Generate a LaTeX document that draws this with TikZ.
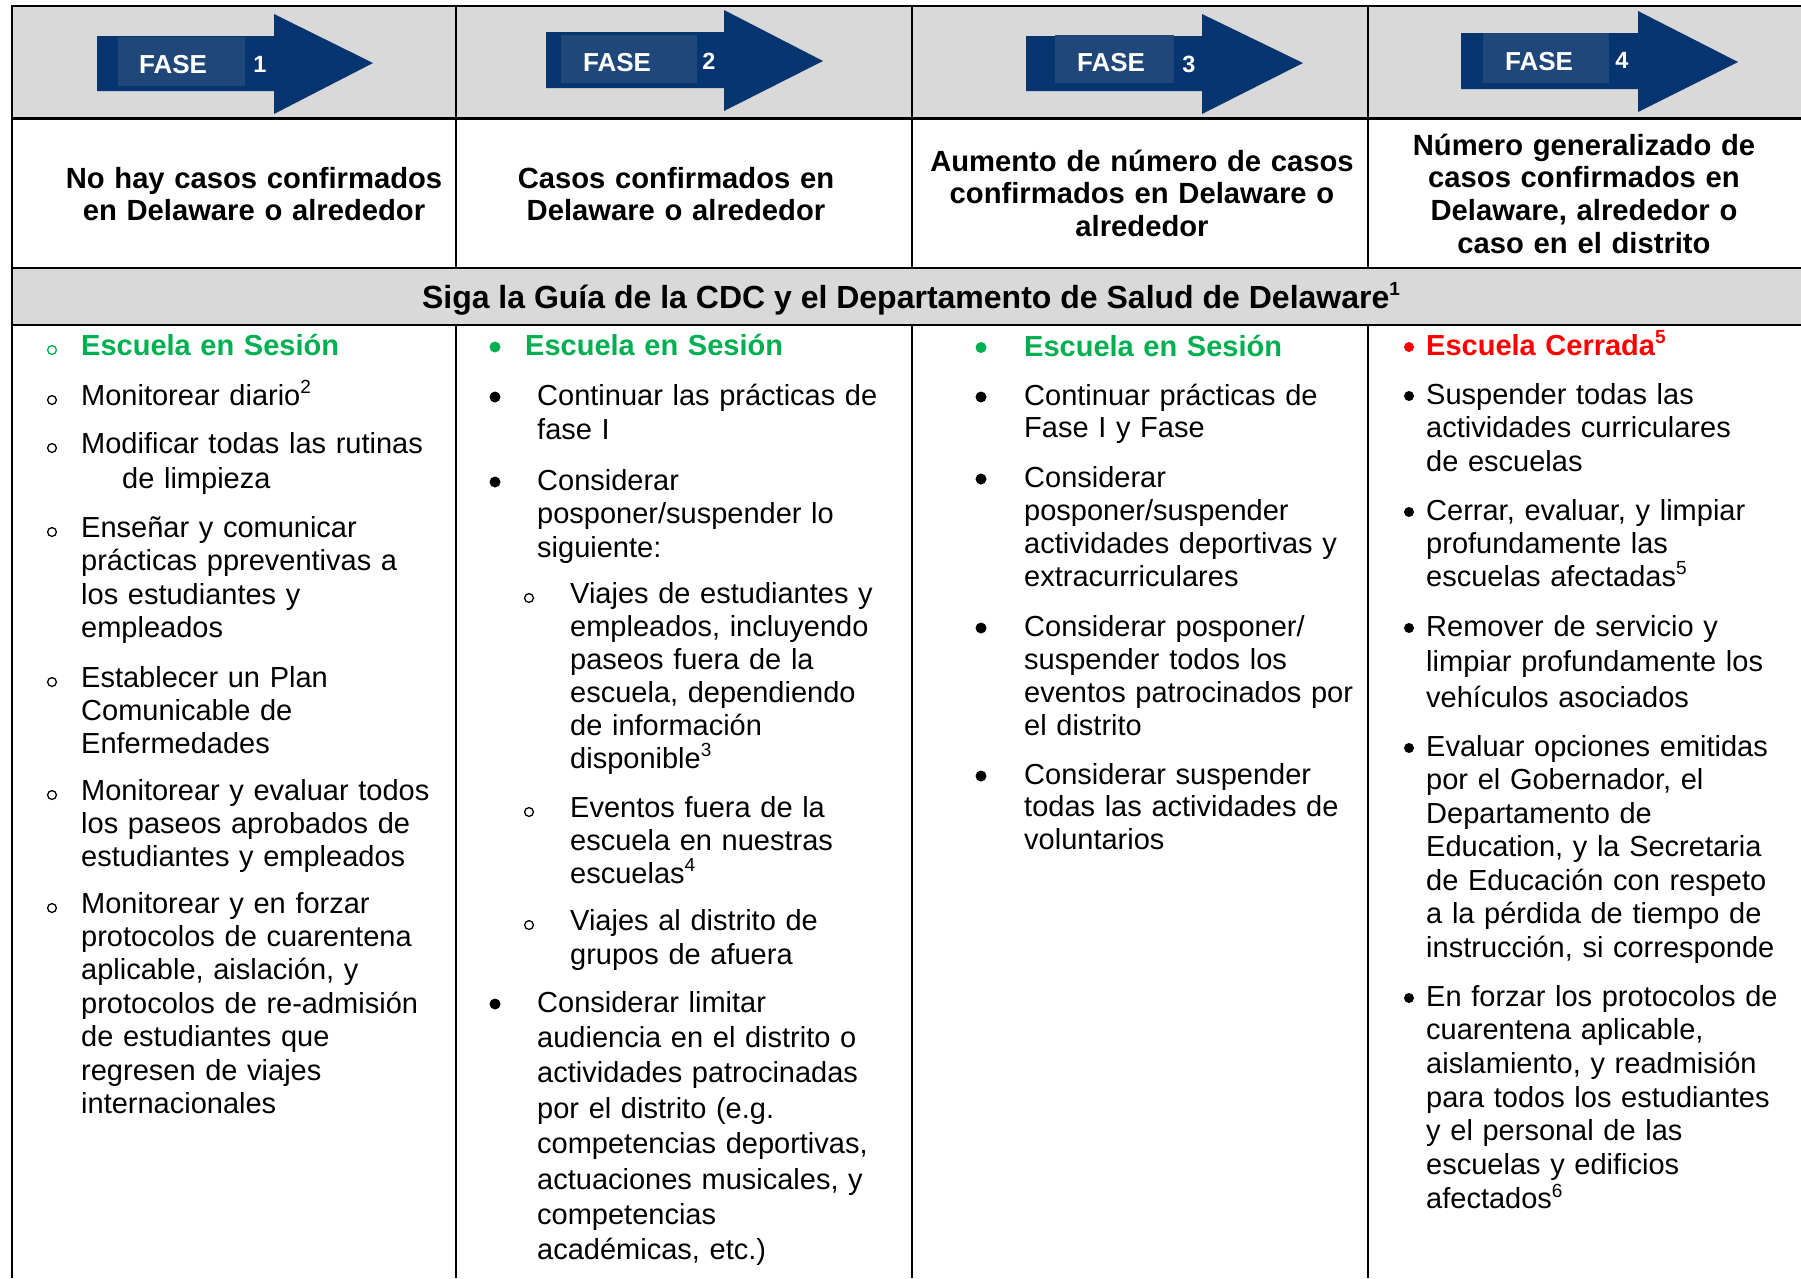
\documentclass[tikz,border=0pt]{standalone}
\usepackage{fontspec}
\setmainfont{Liberation Sans}
\definecolor{navy}{RGB}{6,53,112}
\definecolor{navyl}{RGB}{31,71,122}
\definecolor{cellgray}{RGB}{217,217,217}
\definecolor{sgreen}{RGB}{0,176,80}
\definecolor{sred}{RGB}{255,0,0}
\newcommand\supr[1]{\raisebox{0.38em}{\fontsize{19}{19}\selectfont #1}}
\newcommand\bodyfont[1]{\fontsize{29}{#1}\selectfont}
\begin{document}
\begin{tikzpicture}[x=1pt,y=-1pt,
  hline/.style={line width=2.2pt},
  dline/.style={line width=1.7pt},
  body/.style={anchor=base west, inner sep=0pt, text width=440pt, align=left, font=\bodyfont{33.5}},
  greenhd/.style={body, text=sgreen, font=\bfseries\bodyfont{33.5}},
  hdr/.style={anchor=base, inner sep=0pt, text width=440pt, align=center, font=\bfseries\fontsize{29.2}{32.7}\selectfont},
  fasetxt/.style={anchor=base, inner sep=0pt, text=white, font=\bfseries\fontsize{26}{26}\selectfont},
  fasenum/.style={anchor=base, inner sep=0pt, text=white, font=\bfseries\fontsize{23.5}{24}\selectfont},
  obul/.style={draw, line width=1.3pt},
]
\useasboundingbox (0,0) rectangle (1801,1278);
\fill[white] (0,0) rectangle (1801,1278);
% gray rows
\fill[cellgray] (12,6) rectangle (1801,118);
\fill[cellgray] (12,268) rectangle (1801,325);
% grid lines
\draw[hline] (11,6) -- (1801,6);
\draw[hline] (11,118.5) -- (1801,118.5);
\draw[hline] (11,268) -- (1801,268);
\draw[hline] (11,325) -- (1801,325);
\draw[hline] (12,5) -- (12,1278);
\foreach \xx in {456,912,1368} {
  \draw[dline] (\xx,6) -- (\xx,268);
  \draw[dline] (\xx,325) -- (\xx,1278);
}
% arrows
\fill[navy] (97,36) -- (274,36) -- (274,14) -- (373,63) -- (274,114) -- (274,91) -- (97,91) -- cycle;
\fill[navyl] (118,37) rectangle (245,86);
\node[fasetxt] (f1) at (173,73) {FASE};
\node[fasenum] (n1) at (260,72) {1};
\fill[navy] (546,32) -- (724,32) -- (724,10) -- (823,61) -- (724,111) -- (724,88) -- (546,88) -- cycle;
\fill[navyl] (561,35) rectangle (697,83);
\node[fasetxt] (f2) at (617,71) {FASE};
\node[fasenum] (n2) at (709,69) {2};
\fill[navy] (1026,36) -- (1202,36) -- (1202,14) -- (1303,63) -- (1202,114) -- (1202,91) -- (1026,91) -- cycle;
\fill[navyl] (1055,35) rectangle (1174,83);
\node[fasetxt] (f3) at (1111,71) {FASE};
\node[fasenum] (n3) at (1189,72) {3};
\fill[navy] (1461,33) -- (1638,33) -- (1638,11) -- (1738,62) -- (1638,112) -- (1638,89) -- (1461,89) -- cycle;
\fill[navyl] (1483,33) rectangle (1609,83);
\node[fasetxt] (f4) at (1539,70) {FASE};
\node[fasenum] (n4) at (1622,68) {4};
% header descriptions
\node[hdr] (h1) at (254,188) {No hay casos confirmados\\en Delaware o alrededor};
\node[hdr] (h2) at (676,188) {Casos confirmados en\\Delaware o alrededor};
\node[hdr] (h3) at (1142,171) {Aumento de número de casos\\confirmados en Delaware o\\alrededor};
\node[hdr] (h4) at (1584,155) {Número generalizado de\\casos confirmados en\\Delaware, alrededor o\\caso en el distrito};
% band
\node[anchor=base, inner sep=0pt, font=\bfseries\fontsize{32}{32}\selectfont] (band) at (911,308) {Siga la Guía de la CDC y el Departamento de Salud de Delaware\supr{1}};
% column 1
\draw[obul, sgreen] (52,350) circle[radius=4.4pt];
\node[greenhd] (c1a) at (81,355) {Escuela en Sesión};
\foreach \yy in {405,453,537,687,800,913} \draw[obul] (52,\yy-5) circle[radius=4.4pt];
\node[body] (c1b) at (81,405) {Monitorear diario\supr{2}};
\node[body, font=\bodyfont{35}] (c1c) at (81,453) {Modificar todas las rutinas\\\hspace*{41pt}de limpieza};
\node[body] (c1d) at (81,537) {Enseñar y comunicar\\prácticas ppreventivas a\\los estudiantes y\\empleados};
\node[body, font=\bodyfont{33}] (c1e) at (81,687) {Establecer un Plan\\Comunicable de\\Enfermedades};
\node[body, font=\bodyfont{33}] (c1f) at (81,800) {Monitorear y evaluar todos\\los paseos aprobados de\\estudiantes y empleados};
\node[body, font=\bodyfont{33.4}] (c1g) at (81,913) {Monitorear y en forzar\\protocolos de cuarentena\\aplicable, aislación, y\\protocolos de re-admisión\\de estudiantes que\\regresen de viajes\\internacionales};
% column 2
\fill[sgreen] (495,347) circle[radius=5.5pt];
\node[greenhd] (c2a) at (525,355) {Escuela en Sesión};
\foreach \yy in {405,490,1012} \fill (495,\yy-8) circle[radius=5.5pt];
\foreach \yy in {603,817,930} \draw[obul] (529,\yy-5) circle[radius=4.4pt];
\node[body, font=\bodyfont{34.5}] (c2b) at (537,405) {Continuar las prácticas de\\fase I};
\node[body] (c2c) at (537,490) {Considerar\\posponer/suspender lo\\siguiente:};
\node[body, font=\bodyfont{33}] (c2d) at (570,603) {Viajes de estudiantes y\\empleados, incluyendo\\paseos fuera de la\\escuela, dependiendo\\de información\\disponible\supr{3}};
\node[body, font=\bodyfont{33}] (c2e) at (570,817) {Eventos fuera de la\\escuela en nuestras\\escuelas\supr{4}};
\node[body, font=\bodyfont{34}] (c2f) at (570,930) {Viajes al distrito de\\grupos de afuera};
\node[body, font=\bodyfont{35.4}] (c2g) at (537,1012) {Considerar limitar\\audiencia en el distrito o\\actividades patrocinadas\\por el distrito (e.g.\\competencias deportivas,\\actuaciones musicales, y\\competencias\\académicas, etc.)};
% column 3
\fill[sgreen] (981,347.5) circle[radius=5.5pt];
\node[greenhd] (c3a) at (1024,356) {Escuela en Sesión};
\foreach \yy in {405,487,636,784} \fill (981,\yy-8) circle[radius=5.5pt];
\node[body, font=\bodyfont{32.5}] (c3b) at (1024,405) {Continuar prácticas de\\Fase I y Fase};
\node[body, font=\bodyfont{33}] (c3c) at (1024,487) {Considerar\\posponer/suspender\\actividades deportivas y\\extracurriculares};
\node[body, font=\bodyfont{33}] (c3d) at (1024,636) {Considerar posponer/\\suspender todos los\\eventos patrocinados por\\el distrito};
\node[body, font=\bodyfont{32.5}] (c3e) at (1024,784) {Considerar suspender\\todas las actividades de\\voluntarios};
% column 4
\fill[sred] (1409,347) circle[radius=5pt];
\node[body, text=sred, font=\bfseries\bodyfont{33.5}] (c4a) at (1426,355) {Escuela Cerrada\supr{5}};
\foreach \yy in {404,520,636,756,1006} \fill (1409,\yy-8) circle[radius=5pt];
\node[body] (c4b) at (1426,404) {Suspender todas las\\actividades curriculares\\de escuelas};
\node[body, font=\bodyfont{33}] (c4c) at (1426,520) {Cerrar, evaluar, y limpiar\\profundamente las\\escuelas afectadas\supr{5}};
\node[body, font=\bodyfont{35.5}] (c4d) at (1426,636) {Remover de servicio y\\limpiar profundamente los\\vehículos asociados};
\node[body] (c4e) at (1426,756) {Evaluar opciones emitidas\\por el Gobernador, el\\Departamento de\\Education, y la Secretaria\\de Educación con respeto\\a la pérdida de tiempo de\\instrucción, si corresponde};
\node[body, font=\bodyfont{33.7}] (c4f) at (1426,1006) {En forzar los protocolos de\\cuarentena aplicable,\\aislamiento, y readmisión\\para todos los estudiantes\\y el personal de las\\escuelas y edificios\\afectados\supr{6}};
\end{tikzpicture}
\end{document}
